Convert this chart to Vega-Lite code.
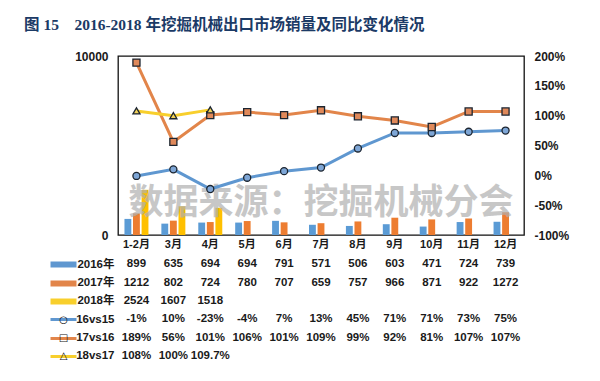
{
  "$schema": "https://vega.github.io/schema/vega-lite/v6.json",
  "background": "white",
  "padding": {"left": 24, "top": 17, "right": 5, "bottom": 5},
  "title": {
    "text": "图 15\u00a0\u00a0\u00a0\u00a02016-2018 年挖掘机械出口市场销量及同比变化情况",
    "anchor": "start",
    "dx": -23,
    "offset": 16,
    "fontSize": 15.5,
    "font": "Liberation Serif, Noto Sans CJK SC",
    "fontWeight": "bold",
    "color": "#1b3a66"
  },
  "data": {
    "values": [
      {"month": "1-2月", "series": "2016年", "value": 899, "label": "899"},
      {"month": "3月", "series": "2016年", "value": 635, "label": "635"},
      {"month": "4月", "series": "2016年", "value": 694, "label": "694"},
      {"month": "5月", "series": "2016年", "value": 694, "label": "694"},
      {"month": "6月", "series": "2016年", "value": 791, "label": "791"},
      {"month": "7月", "series": "2016年", "value": 571, "label": "571"},
      {"month": "8月", "series": "2016年", "value": 506, "label": "506"},
      {"month": "9月", "series": "2016年", "value": 603, "label": "603"},
      {"month": "10月", "series": "2016年", "value": 471, "label": "471"},
      {"month": "11月", "series": "2016年", "value": 724, "label": "724"},
      {"month": "12月", "series": "2016年", "value": 739, "label": "739"},
      {"month": "1-2月", "series": "2017年", "value": 1212, "label": "1212"},
      {"month": "3月", "series": "2017年", "value": 802, "label": "802"},
      {"month": "4月", "series": "2017年", "value": 724, "label": "724"},
      {"month": "5月", "series": "2017年", "value": 780, "label": "780"},
      {"month": "6月", "series": "2017年", "value": 707, "label": "707"},
      {"month": "7月", "series": "2017年", "value": 659, "label": "659"},
      {"month": "8月", "series": "2017年", "value": 757, "label": "757"},
      {"month": "9月", "series": "2017年", "value": 966, "label": "966"},
      {"month": "10月", "series": "2017年", "value": 871, "label": "871"},
      {"month": "11月", "series": "2017年", "value": 922, "label": "922"},
      {"month": "12月", "series": "2017年", "value": 1272, "label": "1272"},
      {"month": "1-2月", "series": "2018年", "value": 2524, "label": "2524"},
      {"month": "3月", "series": "2018年", "value": 1607, "label": "1607"},
      {"month": "4月", "series": "2018年", "value": 1518, "label": "1518"},
      {"month": "1-2月", "series": "16vs15", "value": -1, "label": "-1%"},
      {"month": "3月", "series": "16vs15", "value": 10, "label": "10%"},
      {"month": "4月", "series": "16vs15", "value": -23, "label": "-23%"},
      {"month": "5月", "series": "16vs15", "value": -4, "label": "-4%"},
      {"month": "6月", "series": "16vs15", "value": 7, "label": "7%"},
      {"month": "7月", "series": "16vs15", "value": 13, "label": "13%"},
      {"month": "8月", "series": "16vs15", "value": 45, "label": "45%"},
      {"month": "9月", "series": "16vs15", "value": 71, "label": "71%"},
      {"month": "10月", "series": "16vs15", "value": 71, "label": "71%"},
      {"month": "11月", "series": "16vs15", "value": 73, "label": "73%"},
      {"month": "12月", "series": "16vs15", "value": 75, "label": "75%"},
      {"month": "1-2月", "series": "17vs16", "value": 189, "label": "189%"},
      {"month": "3月", "series": "17vs16", "value": 56, "label": "56%"},
      {"month": "4月", "series": "17vs16", "value": 101, "label": "101%"},
      {"month": "5月", "series": "17vs16", "value": 106, "label": "106%"},
      {"month": "6月", "series": "17vs16", "value": 101, "label": "101%"},
      {"month": "7月", "series": "17vs16", "value": 109, "label": "109%"},
      {"month": "8月", "series": "17vs16", "value": 99, "label": "99%"},
      {"month": "9月", "series": "17vs16", "value": 92, "label": "92%"},
      {"month": "10月", "series": "17vs16", "value": 81, "label": "81%"},
      {"month": "11月", "series": "17vs16", "value": 107, "label": "107%"},
      {"month": "12月", "series": "17vs16", "value": 107, "label": "107%"},
      {"month": "1-2月", "series": "18vs17", "value": 108, "label": "108%"},
      {"month": "3月", "series": "18vs17", "value": 100, "label": "100%"},
      {"month": "4月", "series": "18vs17", "value": 109.7, "label": "109.7%"}
    ]
  },
  "spacing": 5,
  "vconcat": [
    {
      "width": 406,
      "height": 179,
      "layer": [
        {
          "layer": [
            {
              "transform": [{"filter": "indexof(['2016年','2017年','2018年'], datum.series) >= 0"}],
              "mark": {"type": "bar"},
              "encoding": {
                "x": {
                  "field": "month", "type": "nominal",
                  "sort": ["1-2月","3月","4月","5月","6月","7月","8月","9月","10月","11月","12月"],
                  "scale": {"paddingInner": 0.35, "paddingOuter": 0.175},
                  "axis": {"title": null, "labelAngle": 0, "ticks": false, "domain": false, "labelFontWeight": "bold", "labelFontSize": 11, "labelPadding": 3, "labelColor": "#1a1a1a", "labelFont": "Liberation Sans, Noto Sans CJK SC"}
                },
                "xOffset": {"field": "series", "type": "nominal", "sort": ["2016年","2017年","2018年"], "scale": {"paddingInner": 0.2}},
                "y": {
                  "field": "value", "type": "quantitative",
                  "scale": {"domain": [0, 10000]},
                  "axis": {"title": null, "values": [0, 10000], "format": "d", "ticks": false, "domain": false, "grid": false, "labelFontWeight": "bold", "labelFontSize": 12, "labelPadding": 10, "labelColor": "#1a1a1a", "labelFont": "Liberation Sans"}
                },
                "color": {"field": "series", "type": "nominal", "scale": {"domain": ["2016年","2017年","2018年"], "range": ["#5b9bd5", "#ed7d31", "#ffc000"]}, "legend": null}
              }
            },
            {
              "data": {"values": [{"note": "数据来源：挖掘机械分会"}]},
              "mark": {"type": "text", "fontSize": 35, "fontWeight": "bold", "font": "Noto Sans CJK SC", "color": "#b0b0b0", "opacity": 0.7, "align": "center", "baseline": "middle"},
              "encoding": {
                "x": {"datum": "7月", "type": "nominal"},
                "y": {"datum": 1800, "type": "quantitative"},
                "text": {"field": "note"}
              }
            }
          ]
        },
        {
          "transform": [{"filter": "indexof(['16vs15','17vs16','18vs17'], datum.series) >= 0"}],
          "encoding": {
            "x": {"field": "month", "type": "nominal", "sort": ["1-2月","3月","4月","5月","6月","7月","8月","9月","10月","11月","12月"]},
            "y": {
              "field": "value", "type": "quantitative",
              "scale": {"domain": [-100, 200]},
              "axis": {"orient": "right", "title": null, "values": [-100, -50, 0, 50, 100, 150, 200], "labelExpr": "datum.value + '%'", "ticks": false, "domain": false, "grid": false, "labelFontWeight": "bold", "labelFontSize": 12, "labelPadding": 10, "labelColor": "#1a1a1a", "labelFont": "Liberation Sans"}
            }
          },
          "layer": [
            {
              "mark": {"type": "line", "strokeWidth": 3},
              "encoding": {
                "color": {"field": "series", "type": "nominal", "scale": {"domain": ["16vs15","17vs16","18vs17"], "range": ["#5f97d0", "#e2854a", "#f8cf2c"]}, "legend": null}
              }
            },
            {
              "mark": {"type": "point", "filled": true, "size": 50, "stroke": "#1c2530", "strokeWidth": 1.3, "opacity": 1},
              "encoding": {
                "fill": {"field": "series", "type": "nominal", "scale": {"domain": ["16vs15","17vs16","18vs17"], "range": ["#7ea6d6", "#e0895a", "#f3d35a"]}, "legend": null},
                "shape": {"field": "series", "type": "nominal", "scale": {"domain": ["16vs15","17vs16","18vs17"], "range": ["circle", "square", "triangle-up"]}, "legend": null}
              }
            }
          ]
        }
      ],
      "resolve": {"scale": {"y": "independent", "color": "independent"}}
    },
    {
      "width": 406,
      "height": 110,
      "view": {"stroke": null},
      "layer": [
        {
          "mark": {"type": "text", "fontWeight": "bold", "fontSize": 11.5, "font": "Liberation Sans", "color": "#1a1a1a"},
          "encoding": {
            "x": {"field": "month", "type": "nominal", "sort": ["1-2月","3月","4月","5月","6月","7月","8月","9月","10月","11月","12月"], "scale": {"paddingInner": 0.35, "paddingOuter": 0.175}, "axis": null},
            "y": {
              "field": "series", "type": "nominal",
              "sort": ["2016年","2017年","2018年","16vs15","17vs16","18vs17"],
              "axis": {"orient": "left", "title": null, "domain": false, "ticks": false, "labelPadding": 4, "labelFontWeight": "bold", "labelFontSize": 11.5, "labelColor": "#1a1a1a", "labelFont": "Liberation Sans, Noto Sans CJK SC"}
            },
            "text": {"field": "label"}
          }
        },
        {
          "mark": {"type": "text", "opacity": 0},
          "encoding": {
            "x": {"field": "month", "type": "nominal", "sort": ["1-2月","3月","4月","5月","6月","7月","8月","9月","10月","11月","12月"], "axis": null},
            "y": {
              "field": "series", "type": "nominal",
              "sort": ["2016年","2017年","2018年","16vs15","17vs16","18vs17"],
              "axis": {
                "orient": "left", "offset": 42, "title": null, "domain": false,
                "ticks": true, "tickSize": 26,
                "tickWidth": {"condition": {"test": "indexof(['2016年','2017年','2018年'], datum.value) >= 0", "value": 6}, "value": 3},
                "tickColor": {"condition": [
                  {"test": "datum.value === '2016年' || datum.value === '16vs15'", "value": "#5f97d0"},
                  {"test": "datum.value === '2017年' || datum.value === '17vs16'", "value": "#e2854a"}
                ], "value": "#f8cf2c"},
                "labelExpr": "datum.value === '16vs15' ? '○' : datum.value === '17vs16' ? '□' : datum.value === '18vs17' ? '△' : ''",
                "labelAlign": "center", "labelBaseline": "middle", "labelPadding": -13, "labelFontSize": 10, "labelFontWeight": "bold", "labelColor": "#111", "labelFont": "DejaVu Sans"
              }
            },
            "text": {"field": "label"}
          }
        }
      ],
      "resolve": {"scale": {"y": "independent"}, "axis": {"y": "independent"}}
    }
  ],
  "config": {
    "view": {"stroke": "#111", "strokeWidth": 1.3},
    "font": "Liberation Sans"
  }
}
